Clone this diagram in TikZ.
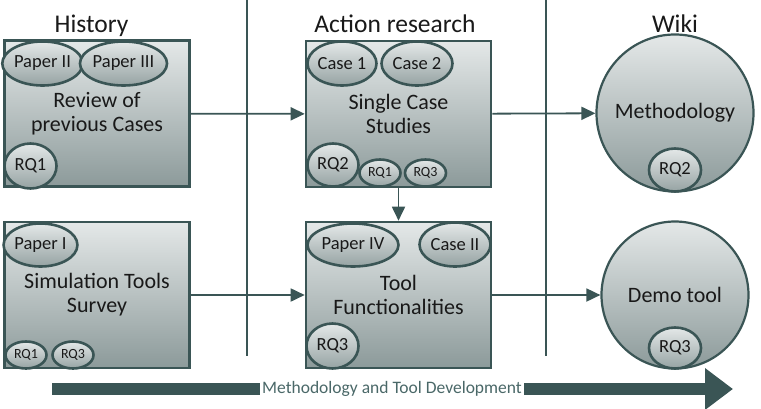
\documentclass[tikz,border=0pt]{standalone}
\usepackage{fontspec}
\setmainfont{Carlito}
\usepackage{tikz}
\usetikzlibrary{arrows.meta,shapes.geometric}
\definecolor{slate}{RGB}{58,85,85}
\definecolor{ink}{RGB}{25,25,25}
\definecolor{shadetop}{RGB}{228,232,232}
\definecolor{shadebot}{RGB}{140,154,154}
\definecolor{tagbot}{RGB}{150,163,163}
\definecolor{devtext}{RGB}{74,104,104}

\begin{document}
\begin{tikzpicture}[
    x=1pt, y=-1pt,
    >={Triangle[length=14pt 0 0,width=13pt 0 0]},
    font=\fontsize{22}{24}\selectfont,
    text=ink,
    phasebox/.style={
		rectangle,
		draw=slate,
		line width=2.6pt,
		top color=shadetop,
		bottom color=shadebot,
		minimum width=185pt,
		minimum height=146pt,
		align=center,
		inner sep=0pt
	},
    goal/.style={
		circle,
		draw=slate,
		line width=2.2pt,
		top color=shadetop,
		bottom color=shadebot,
		inner sep=0pt,
		minimum size=157pt
	},
    tag/.style={
		ellipse,
		draw=slate,
		line width=2.6pt,
		top color=shadetop,
		bottom color=tagbot,
		inner sep=0pt,
		minimum height=44pt,
		font=\fontsize{18.5}{20}\selectfont
	},
    minitag/.style={
		tag,
		minimum width=41pt,
		minimum height=27pt,
		font=\fontsize{14}{16}\selectfont
	},
    heading/.style={
		anchor=base,
		font=\fontsize{25.5}{30}\selectfont
	},
    devlabel/.style={
		fill=white,
		inner xsep=2pt,
		inner ysep=1pt,
		text=devtext,
		font=\fontsize{17.5}{20}\selectfont
	},
    flow/.style={draw=slate, line width=1.8pt, ->},
    divider/.style={draw=slate, line width=2pt}
  ]
  \useasboundingbox (0,0) rectangle (761,408);

  % column headings and dividers
  \node [heading] (hhist) at (91.5,32) {History};
  \node [heading] (haction) at (395,32) {Action research};
  \node [heading] (hwiki) at (675,32) {Wiki};

  \draw [divider] (247,0) -- (247,356);
  \draw [divider] (546,0) -- (546,356);

  % the blocks
  \node [phasebox] (hist) at (97,113.5) {Review of\\previous Cases};
  \node [phasebox] (scs) at (398.5,114) {Single Case\\Studies};
  \node [goal] (meth) at (675,113) {Methodology};

  \node [phasebox] (sim) at (97,295) {Simulation Tools\\Survey};
  \node [phasebox] (tool) at (398.5,295) {Tool\\Functionalities};
  \node [goal, minimum size=147pt] (demo) at (675,295) {Demo tool};

  % papers, cases and research questions
  \node [tag, minimum width=76pt] (p2) at (42.5,63.5) {Paper II};
  \node [tag, minimum width=78pt] (p3) at (123.5,63.5) {Paper III};
  \node [tag, minimum width=52pt, minimum height=45pt] (hq1) at (30.5,166) {RQ1};

  \node [tag, minimum width=69pt] (c1) at (342,63.5) {Case 1};
  \node [tag, minimum width=71pt] (c2) at (417,63.5) {Case 2};
  \node [tag, minimum width=51pt, minimum height=43pt] (sq2) at (333,165) {RQ2};
  \node [minitag] (sq1) at (380,173) {RQ1};
  \node [minitag] (sq3) at (425.5,173) {RQ3};

  \node [tag, minimum width=52pt, minimum height=43pt] (mq2) at (675,170) {RQ2};

  \node [tag, minimum width=70pt, minimum height=43pt] (p1) at (40.5,245) {Paper I};
  \node [minitag] (bq1) at (26,355) {RQ1};
  \node [minitag] (bq3) at (73,355) {RQ3};

  \node [tag, minimum width=91pt, minimum height=43pt] (p4) at (353,245) {Paper IV};
  \node [tag, minimum width=71pt] (cII) at (455,244.5) {Case II};
  \node [tag, minimum width=52pt, minimum height=45pt] (tq3) at (332.5,346) {RQ3};

  \node [tag, minimum width=52pt, minimum height=41pt] (dq3) at (675,348) {RQ3};

  % connectors
  \draw [flow] (hist) -- (scs);
  \draw [flow] (scs) -- (meth);
  \draw [flow] (scs) -- (tool);
  \draw [flow] (sim) -- (tool);
  \draw [flow] (tool) -- (demo);

  % development arrow
  \coordinate (devstart) at (52,389);
  \coordinate (devend) at (733,389);
  \node [devlabel] (dev) at (392,389) {Methodology and Tool Development};
  \draw [slate, line width=12pt] (devstart) -- (dev.west);
  \draw [slate, line width=12pt, -{Triangle[length=28pt 0 0,width=40pt 0 0]}] (dev.east) -- (devend);

\end{tikzpicture}
\end{document}
